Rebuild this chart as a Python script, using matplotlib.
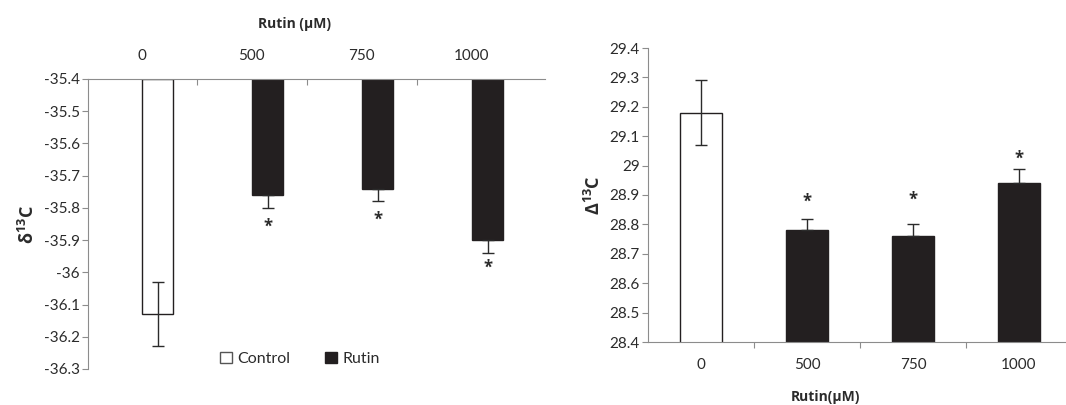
import matplotlib.pyplot as plt
import matplotlib.patches as mpatches
import numpy as np

plt.rcParams['font.family'] = ['Lato', 'DejaVu Sans']
plt.rcParams['mathtext.fontset'] = 'custom'
plt.rcParams['mathtext.rm'] = 'Open Sans'
plt.rcParams['mathtext.bf'] = 'Open Sans:bold'

# data
doses = ['0', '500', '750', '1000']
delta_vals = [-36.13, -35.76, -35.74, -35.90]
delta_err = [0.10, 0.04, 0.04, 0.04]
Delta_vals = [29.18, 28.78, 28.76, 28.94]
Delta_err = [0.11, 0.04, 0.04, 0.05]
star_left = [None, -35.857, -35.838, -35.987]
star_right = [None, 28.876, 28.883, 29.022]

axis_col = '#8c8c8c'
txt_col = '#2b2b2b'
bar_col = '#231f20'
bold_font = ['Open Sans', 'DejaVu Sans']
tick_fs = 11

fig = plt.figure(figsize=(10.66, 4.05), dpi=100)

# ---------- left chart: delta 13C (bars hang from top axis) ----------
ax1 = fig.add_axes([88 / 1066, 1 - 369 / 405, 457 / 1066, 290 / 405])
x = np.arange(4)
base = -35.4
colors = ['white'] + [bar_col] * 3
heights = [v - base for v in delta_vals]
ax1.bar(x + 0.145, heights, bottom=base, width=0.28, color=colors,
        edgecolor=bar_col, linewidth=1)
for i in range(4):
    if i == 0:
        yerr = [[delta_err[i]], [delta_err[i]]]
    else:
        yerr = [[delta_err[i]], [0]]
    ax1.errorbar(x[i] + 0.145, delta_vals[i], yerr=yerr, fmt='none',
                 ecolor=txt_col, elinewidth=1, capsize=4, capthick=1)
    if star_left[i] is not None:
        ax1.text(x[i] + 0.145, star_left[i], '*', ha='center', va='center',
                 fontsize=12, fontweight='bold', color=txt_col, family=bold_font)
ax1.set_ylim(-36.3, -35.4)
ax1.set_xlim(-0.49, -0.49 + 457 / 110)
ax1.set_yticks(np.arange(-36.3, -35.35, 0.1))
ax1.set_yticklabels(['-36.3', '-36.2', '-36.1', '-36', '-35.9', '-35.8',
                     '-35.7', '-35.6', '-35.5', '-35.4'])
ax1.spines['bottom'].set_visible(False)
ax1.spines['right'].set_visible(False)
ax1.spines['top'].set_color(axis_col)
ax1.spines['left'].set_color(axis_col)
ax1.xaxis.set_ticks_position('top')
ax1.set_xticks([0.5, 1.5, 2.5])
ax1.set_xticklabels([])
ax1.tick_params(axis='x', direction='in', length=4, color=axis_col)
ax1.tick_params(axis='y', direction='out', length=4, color=axis_col,
                labelsize=tick_fs, labelcolor=txt_col, pad=2)
for i, d in enumerate(doses):
    ax1.text(x[i], 1.079, d, transform=ax1.get_xaxis_transform(),
             ha='center', va='center', fontsize=tick_fs, color=txt_col)
ax1.text(0.452, 1.19, 'Rutin (μM)', transform=ax1.transAxes, ha='center',
         va='center', fontsize=10, fontweight='bold', color=txt_col,
         family=bold_font)
ax1.set_ylabel('δ$^{\\mathbf{13}}$C', fontsize=13, fontweight='bold',
               color=txt_col, labelpad=4, family=bold_font)

handles = [mpatches.Patch(facecolor='white', edgecolor='#555555', label='Control'),
           mpatches.Patch(facecolor=bar_col, edgecolor=bar_col, label='Rutin')]
fig.legend(handles=handles, loc='center', bbox_to_anchor=(300 / 1066, 1 - 359 / 405),
           ncol=2, frameon=False, fontsize=11.5, handlelength=0.75,
           handleheight=0.75, handletextpad=0.3, columnspacing=2.2,
           labelcolor=txt_col)

# ---------- right chart: Delta 13C ----------
ax2 = fig.add_axes([648 / 1066, 1 - 342 / 405, 418 / 1066, 294 / 405])
ax2.bar(x, Delta_vals, bottom=0, width=0.4, color=colors,
        edgecolor=bar_col, linewidth=1)
for i in range(4):
    if i == 0:
        yerr = [[Delta_err[i]], [Delta_err[i]]]
    else:
        yerr = [[0], [Delta_err[i]]]
    ax2.errorbar(x[i], Delta_vals[i], yerr=yerr, fmt='none', ecolor=txt_col,
                 elinewidth=1, capsize=4, capthick=1)
    if star_right[i] is not None:
        ax2.text(x[i], star_right[i], '*', ha='center', va='center',
                 fontsize=12, fontweight='bold', color=txt_col, family=bold_font)
ax2.set_ylim(28.4, 29.4)
ax2.set_xlim(-0.5, -0.5 + 418 / 106)
ax2.set_yticks(np.arange(28.4, 29.45, 0.1))
ax2.set_yticklabels(['28.4', '28.5', '28.6', '28.7', '28.8', '28.9', '29',
                     '29.1', '29.2', '29.3', '29.4'])
ax2.spines['top'].set_visible(False)
ax2.spines['right'].set_visible(False)
ax2.spines['bottom'].set_color(axis_col)
ax2.spines['left'].set_color(axis_col)
ax2.set_xticks([0.5, 1.5, 2.5])
ax2.set_xticklabels([])
ax2.tick_params(axis='x', direction='out', length=4, color=axis_col)
ax2.tick_params(axis='y', direction='out', length=4, color=axis_col,
                labelsize=tick_fs, labelcolor=txt_col, pad=2)
for i, d in enumerate(doses):
    ax2.text(x[i], -0.078, d, transform=ax2.get_xaxis_transform(),
             ha='center', va='center', fontsize=tick_fs, color=txt_col)
ax2.text(825 / 1066, 1 - 397 / 405, 'Rutin(μM)', transform=fig.transFigure,
         ha='center', va='center', fontsize=10, fontweight='bold',
         color=txt_col, family=bold_font)
ax2.set_ylabel('Δ$^{\\mathbf{13}}$C', fontsize=13, fontweight='bold',
               color=txt_col, labelpad=4, family=bold_font)

fig.savefig('out.png', dpi=100)
